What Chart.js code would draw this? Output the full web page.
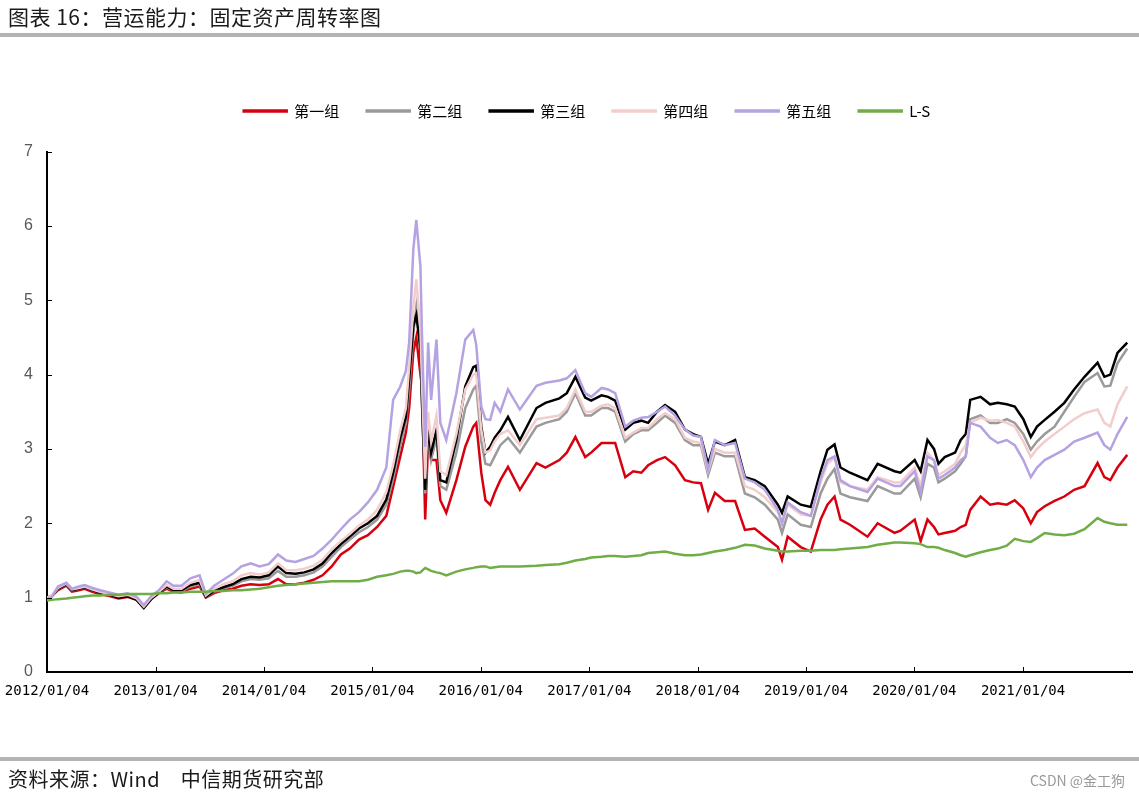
<!DOCTYPE html>
<html>
<head>
<meta charset="utf-8">
<script src="https://cdn.jsdelivr.net/npm/chart.js@4.4.1/dist/chart.umd.min.js"></script>
<style>
  body { margin: 0; background: #fff; }
  #page { position: relative; width: 1139px; height: 797px; overflow: hidden; font-family: "Noto Sans CJK SC", sans-serif; }
  #page canvas { position: absolute; left: 0; top: 0; }
  .title { position: absolute; left: 8px; top: 1px; font-size: 21px; color: #1a1a1a; letter-spacing: 0.5px; }
  .bar { position: absolute; left: 0; width: 1139px; height: 4px; background: #b3b3b3; }
  .source { position: absolute; left: 8px; top: 764px; font-size: 20px; color: #1a1a1a; letter-spacing: 0.5px; }
  .mark { position: absolute; left: 1030px; top: 770px; font-size: 14px; color: #9a9a9a; }
</style>
</head>
<body>
<div id="page">
  <canvas id="turnoverChart" width="1139" height="797"></canvas>
  <div class="title">图表 16：营运能力：固定资产周转率图</div>
  <div class="bar" style="top:33px"></div>
  <div class="bar" style="top:757px"></div>
  <div class="source">资料来源：Wind　中信期货研究部</div>
  <div class="mark">CSDN @金工狗</div>
</div>
<script>
// Data
const seriesNames = ['第一组', '第二组', '第三组', '第四组', '第五组', 'L-S'];
const tickLabels = ['2012/01/04', '2013/01/04', '2014/01/04', '2015/01/04', '2016/01/04',
    '2017/01/04', '2018/01/04', '2019/01/04', '2020/01/04', '2021/01/04'];

const dates = [
    '2012-01-04', '2012-01-20', '2012-02-10', '2012-03-09', '2012-03-28', '2012-04-20', '2012-05-10', '2012-06-05',
    '2012-07-01', '2012-08-01', '2012-09-01', '2012-10-01', '2012-11-01', '2012-11-25', '2012-12-20',
    '2013-01-15', '2013-02-10', '2013-03-05', '2013-04-01', '2013-05-01', '2013-06-01', '2013-06-22', '2013-07-20',
    '2013-08-20', '2013-09-20', '2013-10-20', '2013-11-20', '2013-12-20',
    '2014-01-20', '2014-02-20', '2014-03-20', '2014-04-20', '2014-05-20', '2014-06-20', '2014-07-20', '2014-08-20',
    '2014-09-20', '2014-10-20', '2014-11-20', '2014-12-20',
    '2015-01-20', '2015-02-20', '2015-03-15', '2015-04-08', '2015-04-27', '2015-05-08', '2015-05-22', '2015-06-01',
    '2015-06-15', '2015-06-20', '2015-07-01', '2015-07-11', '2015-07-21', '2015-08-08', '2015-08-21', '2015-09-10',
    '2015-10-14', '2015-11-13', '2015-12-10', '2015-12-20',
    '2016-01-06', '2016-01-20', '2016-02-05', '2016-02-20', '2016-03-10', '2016-04-05', '2016-05-15', '2016-07-10',
    '2016-08-09', '2016-09-25', '2016-10-20', '2016-11-18', '2016-12-21',
    '2017-01-10', '2017-02-14', '2017-03-08', '2017-04-01', '2017-05-05', '2017-06-01', '2017-06-28', '2017-07-21',
    '2017-08-20', '2017-09-16', '2017-10-20', '2017-11-22', '2017-12-20',
    '2018-01-15', '2018-02-08', '2018-03-03', '2018-04-05', '2018-05-10', '2018-06-12', '2018-07-15', '2018-08-18',
    '2018-10-01', '2018-10-15', '2018-11-03', '2018-12-17',
    '2019-01-20', '2019-02-22', '2019-03-17', '2019-04-10', '2019-04-30', '2019-06-01', '2019-07-30', '2019-09-02',
    '2019-10-29', '2019-11-18',
    '2020-01-05', '2020-01-25', '2020-02-17', '2020-03-10', '2020-03-25', '2020-04-15', '2020-05-20', '2020-06-08',
    '2020-06-25', '2020-07-10', '2020-08-14', '2020-09-15', '2020-10-11', '2020-11-10', '2020-12-07',
    '2021-01-05', '2021-01-30', '2021-02-20', '2021-03-18', '2021-04-20', '2021-05-23', '2021-06-25', '2021-07-30',
    '2021-09-12', '2021-10-05', '2021-10-25', '2021-11-18', '2021-12-21'
];

const group1 = [
    1.00, 1.02, 1.10, 1.16, 1.08, 1.10, 1.12, 1.08, 1.05, 1.02, 0.99, 1.01, 0.97, 0.87, 0.98,
    1.06, 1.12, 1.08, 1.07, 1.12, 1.15, 1.00, 1.06, 1.10, 1.12, 1.16, 1.18, 1.17,
    1.18, 1.25, 1.18, 1.18, 1.20, 1.24, 1.30, 1.42, 1.58, 1.66, 1.78, 1.84,
    1.95, 2.10, 2.49, 2.90, 3.22, 3.55, 4.30, 4.50, 4.00, 3.84, 2.05, 3.12, 2.85, 2.85, 2.31, 2.14,
    2.58, 3.03, 3.30, 3.35,
    2.68, 2.31, 2.25, 2.41, 2.58, 2.76, 2.45, 2.81, 2.75, 2.85, 2.95, 3.16, 2.89,
    2.95, 3.08, 3.08, 3.08, 2.62, 2.70, 2.68, 2.78, 2.85, 2.89, 2.78, 2.58, 2.55,
    2.54, 2.18, 2.41, 2.30, 2.30, 1.91, 1.93, 1.82, 1.68, 1.51, 1.82, 1.68,
    1.62, 2.05, 2.25, 2.36, 2.05, 1.98, 1.82, 2.00, 1.87, 1.90,
    2.05, 1.76, 2.05, 1.95, 1.85, 1.87, 1.90, 1.95, 1.98, 2.18, 2.36, 2.25, 2.27, 2.25, 2.31,
    2.20, 2.00, 2.15, 2.23, 2.30, 2.36, 2.45, 2.50, 2.81, 2.62, 2.58, 2.75, 2.92
];
const group2 = [
    1.00, 1.02, 1.12, 1.18, 1.10, 1.12, 1.14, 1.10, 1.07, 1.04, 1.01, 1.03, 0.98, 0.87, 0.99,
    1.07, 1.14, 1.10, 1.09, 1.15, 1.18, 1.01, 1.08, 1.13, 1.16, 1.22, 1.25, 1.24,
    1.26, 1.36, 1.28, 1.28, 1.30, 1.34, 1.42, 1.55, 1.68, 1.78, 1.88, 1.95,
    2.05, 2.25, 2.60, 3.05, 3.35, 3.80, 4.55, 4.90, 4.30, 3.60, 2.40, 3.20, 2.85, 3.15, 2.50, 2.45,
    2.95, 3.55, 3.80, 3.85,
    3.10, 2.80, 2.78, 2.90, 3.05, 3.15, 2.95, 3.30, 3.35, 3.40, 3.50, 3.75, 3.45,
    3.45, 3.55, 3.55, 3.50, 3.10, 3.20, 3.25, 3.25, 3.35, 3.45, 3.35, 3.12, 3.05,
    3.05, 2.65, 2.95, 2.90, 2.90, 2.40, 2.35, 2.25, 2.05, 1.87, 2.12, 1.98,
    1.95, 2.40, 2.60, 2.73, 2.40, 2.35, 2.30, 2.50, 2.40, 2.40,
    2.60, 2.35, 2.80, 2.75, 2.55, 2.60, 2.70, 2.80, 2.90, 3.40, 3.45, 3.35, 3.35, 3.40, 3.35,
    3.20, 2.99, 3.10, 3.20, 3.30, 3.50, 3.70, 3.90, 4.02, 3.84, 3.85, 4.15, 4.35
];
const group3 = [
    1.00, 1.02, 1.12, 1.18, 1.10, 1.12, 1.14, 1.10, 1.07, 1.04, 1.00, 1.02, 0.97, 0.86, 0.98,
    1.07, 1.15, 1.10, 1.10, 1.17, 1.20, 1.01, 1.09, 1.14, 1.18, 1.25, 1.28, 1.27,
    1.30, 1.42, 1.33, 1.32, 1.34, 1.38, 1.46, 1.60, 1.72, 1.82, 1.93, 2.00,
    2.10, 2.32, 2.68, 3.15, 3.43, 3.95, 4.65, 4.80, 4.35, 3.66, 2.45, 3.30, 2.95, 3.25, 2.58, 2.55,
    3.12, 3.84, 4.10, 4.12,
    3.30, 2.95, 3.03, 3.15, 3.25, 3.43, 3.12, 3.55, 3.62, 3.68, 3.75, 3.97, 3.69,
    3.65, 3.72, 3.70, 3.65, 3.26, 3.35, 3.38, 3.35, 3.50, 3.59, 3.50, 3.26, 3.20,
    3.16, 2.80, 3.10, 3.05, 3.12, 2.62, 2.58, 2.50, 2.25, 2.14, 2.36, 2.25,
    2.22, 2.70, 2.99, 3.06, 2.75, 2.68, 2.58, 2.80, 2.70, 2.68,
    2.85, 2.70, 3.12, 3.00, 2.80, 2.89, 2.95, 3.12, 3.20, 3.66, 3.70, 3.60, 3.62, 3.60, 3.57,
    3.40, 3.16, 3.30, 3.39, 3.50, 3.62, 3.80, 3.97, 4.16, 3.97, 4.00, 4.29, 4.43
];
const group4 = [
    1.00, 1.03, 1.13, 1.19, 1.11, 1.13, 1.15, 1.11, 1.08, 1.05, 1.02, 1.04, 0.99, 0.88, 1.00,
    1.08, 1.17, 1.12, 1.12, 1.20, 1.24, 1.03, 1.12, 1.18, 1.22, 1.30, 1.33, 1.31,
    1.34, 1.46, 1.37, 1.37, 1.39, 1.43, 1.51, 1.65, 1.76, 1.86, 1.97, 2.05,
    2.18, 2.42, 2.78, 3.25, 3.55, 4.10, 4.90, 5.28, 4.60, 3.90, 2.60, 3.50, 3.10, 3.45, 2.70, 2.65,
    3.20, 3.80, 4.00, 4.02,
    3.25, 2.95, 2.98, 3.10, 3.20, 3.25, 3.05, 3.40, 3.42, 3.45, 3.55, 3.80, 3.50,
    3.50, 3.58, 3.60, 3.55, 3.15, 3.22, 3.28, 3.28, 3.40, 3.48, 3.40, 3.15, 3.10,
    3.08, 2.70, 3.00, 2.95, 2.95, 2.50, 2.45, 2.35, 2.15, 2.00, 2.25, 2.12,
    2.10, 2.55, 2.80, 2.88, 2.55, 2.50, 2.45, 2.62, 2.55, 2.55,
    2.75, 2.50, 2.95, 2.85, 2.65, 2.70, 2.80, 2.95, 3.05, 3.35, 3.42, 3.38, 3.39, 3.35, 3.30,
    3.10, 2.89, 3.00, 3.10, 3.20, 3.30, 3.40, 3.48, 3.53, 3.35, 3.30, 3.60, 3.84
];
const group5 = [
    0.98, 1.01, 1.15, 1.20, 1.12, 1.15, 1.17, 1.13, 1.10, 1.07, 1.04, 1.06, 1.01, 0.90, 1.02,
    1.10, 1.22, 1.16, 1.16, 1.26, 1.30, 1.05, 1.16, 1.24, 1.32, 1.42, 1.46, 1.42,
    1.45, 1.58, 1.50, 1.48, 1.52, 1.56, 1.66, 1.78, 1.92, 2.05, 2.15, 2.28,
    2.45, 2.75, 3.66, 3.84, 4.05, 4.43, 5.68, 6.08, 5.45, 4.56, 3.03, 4.43, 3.66, 4.47, 3.35, 3.12,
    3.75, 4.47, 4.60, 4.40,
    3.57, 3.40, 3.39, 3.62, 3.50, 3.80, 3.53, 3.85, 3.89, 3.92, 3.95, 4.06, 3.75,
    3.70, 3.82, 3.80, 3.75, 3.30, 3.38, 3.42, 3.43, 3.50, 3.57, 3.45, 3.26, 3.18,
    3.16, 2.72, 3.12, 3.05, 3.08, 2.60, 2.55, 2.45, 2.18, 2.00, 2.28, 2.15,
    2.10, 2.60, 2.85, 2.90, 2.58, 2.50, 2.42, 2.60, 2.50, 2.50,
    2.70, 2.41, 2.90, 2.85, 2.60, 2.65, 2.75, 2.85, 2.90, 3.35, 3.30, 3.15, 3.08, 3.12, 3.05,
    2.85, 2.62, 2.75, 2.85, 2.92, 2.99, 3.10, 3.15, 3.22, 3.05, 2.99, 3.20, 3.43
];
const longShort = [
    0.96, 0.97, 0.98, 0.99, 1.00, 1.01, 1.02, 1.03, 1.03, 1.04, 1.04, 1.05, 1.05, 1.05, 1.05,
    1.06, 1.06, 1.07, 1.07, 1.08, 1.08, 1.08, 1.09, 1.09, 1.10, 1.10, 1.11, 1.12,
    1.14, 1.16, 1.17, 1.18, 1.19, 1.20, 1.21, 1.22, 1.22, 1.22, 1.22, 1.24,
    1.28, 1.30, 1.32, 1.35, 1.36, 1.36, 1.35, 1.33, 1.34, 1.36, 1.40, 1.38, 1.36, 1.34, 1.33, 1.30,
    1.35, 1.38, 1.40, 1.41,
    1.42, 1.42, 1.40, 1.41, 1.42, 1.42, 1.42, 1.43, 1.44, 1.45, 1.47, 1.50, 1.52,
    1.54, 1.55, 1.56, 1.56, 1.55, 1.56, 1.57, 1.60, 1.61, 1.62, 1.59, 1.57, 1.57,
    1.58, 1.60, 1.62, 1.64, 1.67, 1.71, 1.70, 1.66, 1.63, 1.62, 1.62, 1.63,
    1.63, 1.64, 1.64, 1.64, 1.65, 1.66, 1.68, 1.71, 1.74, 1.74,
    1.73, 1.72, 1.68, 1.68, 1.67, 1.64, 1.60, 1.57, 1.55, 1.57, 1.61, 1.64, 1.66, 1.70, 1.79,
    1.76, 1.75, 1.80, 1.87, 1.85, 1.84, 1.86, 1.92, 2.07, 2.02, 2.00, 1.98, 1.98
];

const seriesColors = ['#d7000f', '#9a9a9a', '#000000', '#f3cccc', '#b4a2e2', '#70ad47'];

// date string -> ms timestamp
function toTime(s) {
    const p = s.split('-');
    return Date.UTC(+p[0], +p[1] - 1, +p[2]);
}
const tickValues = tickLabels.map(function(l) {
    const p = l.split('/');
    return Date.UTC(+p[0], +p[1] - 1, +p[2]);
});

function points(values) {
    return values.map(function(v, i) { return { x: toTime(dates[i]), y: v }; });
}

const allValues = [group1, group2, group3, group4, group5, longShort];
const datasets = allValues.map(function(vals, i) {
    return {
        label: seriesNames[i],
        data: points(vals),
        borderColor: seriesColors[i],
        backgroundColor: seriesColors[i],
        borderWidth: 2.5,
        pointRadius: 0,
        tension: 0,
        order: 10 - i   // later series drawn on top, like the source
    };
});

// short tick marks pointing into the plot
const innerTicks = {
    id: 'innerTicks',
    afterDraw(chart) {
        const ctx = chart.ctx;
        const area = chart.chartArea;
        const xs = chart.scales.x, ys = chart.scales.y;
        ctx.save();
        ctx.strokeStyle = '#000';
        ctx.lineWidth = 1;
        ctx.beginPath();
        xs.ticks.forEach(function(t) {
            const px = Math.round(xs.getPixelForValue(t.value)) + 0.5;
            ctx.moveTo(px, area.bottom);
            ctx.lineTo(px, area.bottom - 5);
        });
        ys.ticks.forEach(function(t) {
            const py = Math.round(ys.getPixelForValue(t.value)) + 0.5;
            ctx.moveTo(area.left, py);
            ctx.lineTo(area.left + 5, py);
        });
        ctx.stroke();
        ctx.restore();
    }
};

// room under the legend, and centre it over the plot like the source
const legendPlace = {
    id: 'legendPlace',
    beforeInit(chart) {
        const fit = chart.legend.fit;
        chart.legend.fit = function() {
            fit.call(this);
            this.height += 23;
        };
    },
    afterLayout(chart) {
        chart.legend.left += 42;
    }
};

const ctx = document.getElementById('turnoverChart').getContext('2d');
new Chart(ctx, {
    type: 'line',
    data: { datasets: datasets },
    plugins: [innerTicks, legendPlace],
    options: {
        responsive: false,
        animation: false,
        layout: { autoPadding: false, padding: { top: 76, left: 0, right: 7, bottom: 85 } },
        plugins: {
            tooltip: { enabled: false },
            legend: {
                position: 'top',
                labels: {
                    boxWidth: 43,
                    boxHeight: 1,
                    padding: 27.5,
                    color: '#000',
                    font: { family: '"Noto Sans CJK SC"', size: 15 },
                    sort: function(a, b) { return a.datasetIndex - b.datasetIndex; }
                }
            }
        },
        scales: {
            x: {
                type: 'linear',
                min: toTime('2012-01-04'),
                max: toTime('2022-01-06'),
                afterBuildTicks: function(scale) {
                    scale.ticks = tickValues.map(function(v) { return { value: v }; });
                },
                afterFit: function(scale) { scale.height = 40; },
                // invisible outer ticks only push the labels down
                grid: { display: true, drawOnChartArea: false, drawTicks: true, tickLength: 11, tickColor: 'rgba(0,0,0,0)' },
                border: { display: true, color: '#000', width: 2 },
                ticks: {
                    autoSkip: false,
                    maxRotation: 0,
                    padding: 0,
                    color: '#000',
                    font: { family: '"DejaVu Sans Mono"', size: 14 },
                    callback: function(value) {
                        const i = tickValues.indexOf(value);
                        return i >= 0 ? tickLabels[i] : '';
                    }
                }
            },
            y: {
                min: 0,
                max: 7,
                afterFit: function(scale) { scale.width = 47; },
                grid: { display: true, drawOnChartArea: false, drawTicks: false },
                border: { display: true, color: '#000', width: 2 },
                ticks: {
                    stepSize: 1,
                    padding: 14,
                    color: '#595959',
                    font: { family: '"Liberation Sans"', size: 16 }
                }
            }
        }
    }
});
</script>
</body>
</html>
